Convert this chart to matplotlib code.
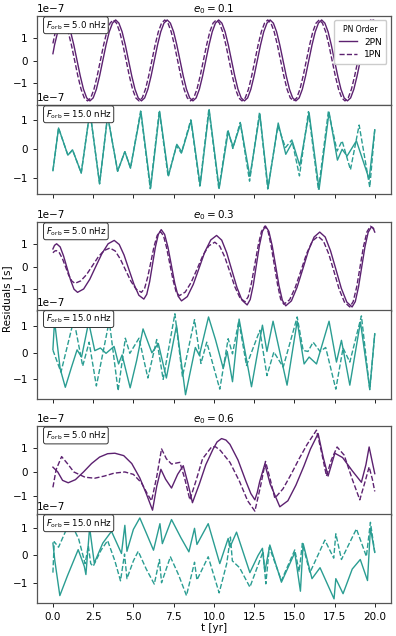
import matplotlib
matplotlib.use("Agg")
import matplotlib.pyplot as plt
import numpy as np

# residuals in units of 1e-7 s
# e0 = 0.1, Forb = 5 nHz
t_a_2pn = [0.0, 0.1, 0.3, 0.5, 0.7, 0.9, 1.1, 1.3, 1.5, 1.7, 1.9, 2.1, 2.3, 2.5, 2.7, 2.9, 3.1, 3.3, 3.5, 3.7,
           3.9, 4.1, 4.3, 4.5, 4.7, 4.9, 5.1, 5.3, 5.5, 5.7, 5.9, 6.1, 6.3, 6.5, 6.7, 6.9, 7.1, 7.3, 7.5, 7.7,
           7.9, 8.1, 8.3, 8.5, 8.7, 8.9, 9.1, 9.3, 9.5, 9.7, 9.9, 10.1, 10.3, 10.5, 10.7, 10.9, 11.1, 11.3,
           11.5, 11.7, 11.9, 12.1, 12.3, 12.5, 12.7, 12.9, 13.1, 13.3, 13.5, 13.7, 13.9, 14.1, 14.3, 14.5,
           14.7, 14.9, 15.1, 15.3, 15.5, 15.7, 15.9, 16.1, 16.3, 16.5, 16.7, 16.9, 17.1, 17.3, 17.5, 17.7,
           17.9, 18.1, 18.3, 18.5, 18.7, 18.9, 19.1, 19.3, 19.5, 19.7, 19.9, 20.0]
r_a_2pn = [0.30, 0.68, 1.26, 1.64,
           1.78, 1.64, 1.26, 0.68, 0.0, -0.68, -1.26, -1.64, -1.77, -1.64, -1.26, -0.68, 0.0, 0.68, 1.26, 1.64,
           1.78, 1.64, 1.26, 0.68, 0.0, -0.68, -1.26, -1.64, -1.77, -1.64, -1.26, -0.68, 0.0, 0.68, 1.26, 1.64,
           1.78, 1.64, 1.26, 0.68, 0.0, -0.68, -1.26, -1.64, -1.77, -1.64, -1.26, -0.68, 0.0, 0.68, 1.26, 1.64,
           1.78, 1.64, 1.26, 0.68, 0.0, -0.68, -1.26, -1.64, -1.77, -1.64, -1.26, -0.68, 0.0, 0.68, 1.26, 1.64,
           1.78, 1.64, 1.26, 0.68, 0.0, -0.68, -1.26, -1.64, -1.77, -1.64, -1.26, -0.68, 0.0, 0.68, 1.26, 1.64,
           1.78, 1.64, 1.26, 0.68, 0.0, -0.68, -1.26, -1.64, -1.77, -1.64, -1.26, -0.68, 0.0, 0.68, 1.26, 1.64,
           1.78, 1.74]
t_a_1pn = [0.0, 0.15, 0.35, 0.55, 0.75, 0.95, 1.15, 1.35, 1.55, 1.75, 1.95, 2.15, 2.35, 2.55, 2.75, 2.95,
           3.15, 3.35, 3.55, 3.75, 3.95, 4.15, 4.35, 4.55, 4.75, 4.95, 5.15, 5.35, 5.55, 5.75, 5.95, 6.15,
           6.35, 6.55, 6.75, 6.95, 7.15, 7.35, 7.55, 7.75, 7.95, 8.15, 8.35, 8.55, 8.75, 8.95, 9.15, 9.35,
           9.55, 9.75, 9.95, 10.15, 10.35, 10.55, 10.75, 10.95, 11.15, 11.35, 11.55, 11.75, 11.95, 12.15,
           12.35, 12.55, 12.75, 12.95, 13.15, 13.35, 13.55, 13.75, 13.95, 14.15, 14.35, 14.55, 14.75, 14.95,
           15.15, 15.35, 15.55, 15.75, 15.95, 16.15, 16.35, 16.55, 16.75, 16.95, 17.15, 17.35, 17.55, 17.75,
           17.95, 18.15, 18.35, 18.55, 18.75, 18.95, 19.15, 19.35, 19.55, 19.75, 19.95, 20.0]
r_a_1pn = [0.75, 1.26, 1.64,
           1.78, 1.64, 1.26, 0.68, 0.0, -0.68, -1.26, -1.64, -1.77, -1.64, -1.26, -0.68, 0.0, 0.68, 1.26, 1.64,
           1.78, 1.64, 1.26, 0.68, 0.0, -0.68, -1.26, -1.64, -1.77, -1.64, -1.26, -0.68, 0.0, 0.68, 1.26, 1.64,
           1.78, 1.64, 1.26, 0.68, 0.0, -0.68, -1.26, -1.64, -1.77, -1.64, -1.26, -0.68, 0.0, 0.68, 1.26, 1.64,
           1.78, 1.64, 1.26, 0.68, 0.0, -0.68, -1.26, -1.64, -1.77, -1.64, -1.26, -0.68, 0.0, 0.68, 1.26, 1.64,
           1.78, 1.64, 1.26, 0.68, 0.0, -0.68, -1.26, -1.64, -1.77, -1.64, -1.26, -0.68, 0.0, 0.68, 1.26, 1.64,
           1.78, 1.64, 1.26, 0.68, 0.0, -0.68, -1.26, -1.64, -1.77, -1.64, -1.26, -0.68, 0.0, 0.68, 1.26, 1.64,
           1.78, 1.64, 1.58]

# e0 = 0.1, Forb = 15 nHz
t_b_2pn = [0.0, 0.35, 0.93, 1.22, 1.76, 2.3, 2.9, 3.4, 4.02, 4.47, 4.82, 5.47, 6.07, 6.63, 7.18, 7.7, 8.01,
           8.59, 9.15, 9.71, 10.33, 10.89, 11.2, 11.66, 12.24, 12.86, 13.37, 14.0, 14.47, 14.89, 15.34, 15.92,
           16.54, 17.16, 17.68, 17.97, 18.28, 18.86, 19.65, 20.0]
r_b_2pn = [-0.74, 0.72, -0.21, -0.03, -0.82, 1.3, -1.19, 1.14, -0.76, -0.09, -0.65, 1.28, -1.34, 1.29, -0.91,
           0.16, -0.1, 0.97, -1.24, 1.35, -1.35, 0.59, 0.07, 0.86, -0.94, 1.2, -1.34, 0.89, -0.18, 0.24, -0.57,
           1.24, -1.38, 1.26, -0.38, -0.01, -0.24, 0.28, -1.03, 0.66]
t_b_1pn = [0.0, 0.35, 0.93, 1.22, 1.76, 2.3, 2.9, 3.4, 4.02, 4.47, 4.82, 5.45, 6.05, 6.61, 7.16, 7.68, 7.98,
           8.57, 9.13, 9.69, 10.31, 10.87, 11.18, 11.64, 12.22, 12.84, 13.35, 13.98, 14.45, 14.85, 15.32, 15.88,
           16.5, 17.12, 17.66, 17.97, 18.49, 19.03, 19.69, 20.0]
r_b_1pn = [-0.74, 0.72, -0.21, -0.03, -0.82, 1.3, -1.19, 1.14, -0.76, -0.09, -0.65, 1.3, -1.36, 1.31, -0.95,
           0.11, -0.14, 1.0, -1.27, 1.37, -1.37, 0.66, 0.02, 0.91, -1.1, 1.26, -1.37, 0.79, 0.05, 0.31, -0.92,
           1.28, -1.4, 1.3, -0.07, 0.28, -0.71, 0.82, -1.31, 0.66]

# e0 = 0.3, Forb = 5 nHz
t_c_2pn = [0.0, 0.1, 0.23, 0.45, 0.66, 0.88, 1.1, 1.31, 1.53, 1.91, 2.29, 2.67, 3.05, 3.43, 3.81, 4.12, 4.42,
           4.73, 5.04, 5.34, 5.65, 5.83, 6.01, 6.19, 6.37, 6.55, 6.73, 6.94, 7.15, 7.36, 7.57, 7.78, 7.99, 8.35,
           8.72, 9.08, 9.44, 9.81, 10.17, 10.49, 10.8, 11.12, 11.44, 11.75, 12.07, 12.26, 12.45, 12.64, 12.83,
           13.02, 13.21, 13.42, 13.63, 13.84, 14.05, 14.26, 14.47, 14.82, 15.17, 15.53, 15.88, 16.23, 16.58,
           16.92, 17.25, 17.59, 17.92, 18.26, 18.59, 18.79, 18.99, 19.19, 19.39, 19.59, 19.79, 19.9, 20.0]
r_c_2pn = [0.8, 0.96, 1.03, 0.89, 0.49, -0.05, -0.59, -0.99, -1.13, -0.98, -0.55, 0.03, 0.6, 1.03, 1.18, 1.0,
           0.53, -0.13, -0.78, -1.26, -1.43, -1.22, -0.66, 0.12, 0.89, 1.45, 1.66, 1.45, 0.87, 0.08, -0.72,
           -1.3, -1.51, -1.32, -0.78, -0.06, 0.67, 1.2, 1.4, 1.19, 0.63, -0.15, -0.92, -1.48, -1.69, -1.45,
           -0.81, 0.07, 0.94, 1.58, 1.82, 1.58, 0.93, 0.05, -0.84, -1.49, -1.73, -1.51, -0.91, -0.09, 0.73,
           1.33, 1.55, 1.33, 0.72, -0.12, -0.95, -1.56, -1.78, -1.54, -0.89, 0.0, 0.89, 1.54, 1.78, 1.72, 1.55]
t_c_1pn = [0.0, 0.1, 0.2, 0.4, 0.59, 0.79, 0.98, 1.18, 1.37, 1.73, 2.09, 2.46, 2.82, 3.18, 3.54, 3.87, 4.19,
           4.52, 4.85, 5.17, 5.5, 5.7, 5.89, 6.09, 6.28, 6.48, 6.67, 6.87, 7.06, 7.26, 7.46, 7.65, 7.85, 8.22,
           8.59, 8.96, 9.32, 9.69, 10.06, 10.37, 10.68, 11.0, 11.31, 11.62, 11.93, 12.14, 12.34, 12.55, 12.76,
           12.96, 13.17, 13.37, 13.56, 13.76, 13.96, 14.15, 14.35, 14.71, 15.06, 15.42, 15.77, 16.13, 16.48,
           16.81, 17.14, 17.47, 17.79, 18.12, 18.45, 18.66, 18.88, 19.09, 19.3, 19.52, 19.73, 19.87, 20.0]
r_c_1pn = [0.63, 0.7, 0.73, 0.63, 0.37, 0.0, -0.37, -0.63, -0.73, -0.62, -0.34, 0.06, 0.45, 0.73, 0.84, 0.71,
           0.35, -0.15, -0.64, -0.99, -1.13, -0.95, -0.45, 0.23, 0.9, 1.4, 1.58, 1.39, 0.87, 0.15, -0.57,
           -1.09, -1.28, -1.12, -0.69, -0.09, 0.51, 0.94, 1.1, 0.92, 0.44, -0.23, -0.89, -1.37, -1.55, -1.32,
           -0.71, 0.13, 0.97, 1.58, 1.81, 1.58, 0.94, 0.08, -0.79, -1.43, -1.66, -1.46, -0.91, -0.15, 0.6,
           1.16, 1.36, 1.15, 0.58, -0.21, -1.0, -1.57, -1.78, -1.54, -0.88, 0.02, 0.91, 1.57, 1.81, 1.75, 1.63]

# e0 = 0.3, Forb = 15 nHz
t_d_2pn = [0.0, 0.1, 0.45, 0.77, 1.15, 1.5, 1.78, 2.22, 2.6, 2.95, 3.3, 3.8, 4.08, 4.3, 4.8, 5.2, 5.6, 6.15,
           6.55, 7.05, 7.68, 8.24, 8.85, 9.1, 9.67, 10.1, 10.58, 10.83, 11.16, 11.57, 12.34, 13.02, 13.3, 13.68,
           14.55, 15.18, 15.61, 15.92, 16.38, 17.16, 17.62, 17.93, 18.45, 19.11, 19.69, 20.0]
r_d_2pn = [0.13, 1.2, -0.6, -1.3, -0.55, 0.11, -0.16, 1.15, 0.08, 0.18, -0.02, 0.24, -0.42, -0.08, -1.32,
           -0.3, 0.9, 0.0, 0.35, -0.95, 1.03, -1.58, 0.2, -0.1, 1.35, 0.5, -0.58, 0.05, -1.09, 1.27, -1.28,
           1.04, 0.05, 1.19, -1.22, 1.19, -0.42, -0.16, -0.42, 1.19, -0.35, 0.47, -1.22, 1.16, -1.37, 0.72]
t_d_1pn = [0.0, 0.5, 1.3, 1.85, 2.25, 2.7, 3.5, 4.05, 4.5, 4.78, 5.35, 5.9, 6.45, 6.85, 7.58, 8.05, 8.8,
           9.2, 9.56, 10.37, 10.89, 11.16, 11.55, 12.03, 12.86, 13.3, 13.73, 14.31, 15.18, 15.55, 15.85, 16.17,
           16.6, 16.95, 17.58, 18.03, 18.45, 19.17, 19.69, 20.0]
r_d_1pn = [0.1, -0.73, 1.25, -0.5, 0.4, -1.25, 1.2, -1.43, 0.55, -0.02, 0.55, -0.95, 0.5, -1.0, 1.47,
           -0.9, 1.25, -0.4, 0.4, -1.37, 0.53, -0.04, 1.2, -0.48, 0.85, -0.86, 0.03, -0.54, 1.35, 0.09, 0.05,
           0.4, 0.05, 0.2, -1.37, 0.18, -0.35, 1.39, -1.39, 0.72]

# e0 = 0.6, Forb = 5 nHz
t_e_2pn = [0.0, 0.3, 0.6, 0.95, 1.4, 1.9, 2.4, 2.9, 3.4, 3.85, 4.4, 4.9, 5.4, 5.8, 6.19, 6.45, 6.71, 7.0,
           7.37, 7.75, 8.1, 8.4, 8.67, 9.1, 9.5, 9.95, 10.2, 10.48, 10.75, 11.0, 11.5, 12.0, 12.3, 12.55, 12.7,
           12.85, 13.17, 13.5, 14.1, 14.6, 15.1, 15.6, 16.0, 16.48, 16.8, 17.1, 17.52, 18.0, 18.6, 19.17,
           19.45, 19.65, 19.85, 20.0]
r_e_2pn = [0.2, 0.0, -0.35, -0.45, -0.32, 0.0, 0.35, 0.62, 0.76, 0.78, 0.68, 0.35, -0.25, -0.9, -1.59,
           -0.6, 0.11, -0.3, -0.67, -0.1, 0.26, -0.5, -1.28, -0.5, 0.3, 0.95, 1.25, 1.39, 1.33, 1.15, 0.5,
           -0.4, -0.9, -1.16, -0.85, -0.4, 0.33, -0.5, -1.45, -1.2, -0.55, 0.25, 0.95, 1.6, 0.6, -0.17, 0.78,
           0.6, 0.05, -0.43, 0.3, 1.04, 0.4, -0.07]
t_e_1pn = [0.0, 0.2, 0.54, 0.9, 1.3, 2.0, 2.6, 3.2, 3.8, 4.47, 5.0, 5.5, 5.9, 6.13, 6.45, 6.75, 7.05, 7.37,
           7.89, 8.2, 8.51, 8.9, 9.3, 9.86, 10.1, 10.4, 11.0, 11.6, 12.1, 12.55, 12.9, 13.21, 13.5, 13.79,
           14.3, 14.8, 15.3, 15.8, 16.38, 16.7, 17.0, 17.3, 17.66, 18.1, 18.6, 19.07, 19.4, 19.65, 19.85, 20.0]
r_e_1pn = [-0.64, 0.1, 0.64, 0.35, 0.0, -0.22, -0.26, -0.17, -0.05, 0.0, -0.1, -0.45, -0.95, -1.2, -0.2,
           0.96, 0.55, 0.33, 0.4, -0.3, -1.16, -0.35, 0.55, 1.04, 1.05, 0.9, 0.4, -0.4, -1.2, -1.63, -0.6,
           0.44, -0.3, -1.09, -0.7, -0.1, 0.55, 1.15, 1.74, 0.8, -0.17, 0.5, 1.04, 0.7, -0.3, -1.16, -0.4,
           0.21, -0.3, -0.81]

# e0 = 0.6, Forb = 15 nHz
t_f_2pn = [0.0, 0.12, 0.43, 0.9, 1.57, 1.95, 2.05, 2.28, 2.57, 3.1, 3.64, 4.26, 4.47, 4.6, 5.0, 5.4, 5.85,
           6.25, 6.65, 6.8, 7.37, 7.95, 8.45, 8.8, 8.95, 9.65, 10.37, 10.89, 11.0, 11.41, 12.24, 12.75, 13.02,
           13.17, 13.48, 14.2, 15.03, 15.38, 15.55, 16.1, 16.6, 17.47, 17.58, 18.03, 18.6, 19.1, 19.55, 19.73,
           20.0]
r_f_2pn = [0.45, -0.2, -1.47, -0.75, 0.21, -0.4, -0.7, 1.02, -0.28, 0.45, 0.88, 0.07, 1.1, 0.15, 0.95,
           1.37, 0.75, 0.19, 1.16, 0.43, 1.31, 0.65, 0.13, 0.99, 0.4, 1.16, -0.3, 0.62, 0.3, 0.85, -0.63, 0.0,
           0.26, -0.6, 0.38, -0.98, 0.1, -1.31, 0.43, -0.85, -0.45, -1.59, -0.85, -1.4, -0.5, -0.15, -0.92,
           1.0, 0.11]
t_f_1pn = [0.0, 0.08, 0.35, 0.8, 1.15, 1.6, 2.0, 2.2, 2.35, 2.5, 3.0, 3.4, 3.85, 4.2, 4.45, 4.6, 5.0, 5.3,
           5.8, 6.3, 6.62, 6.75, 7.3, 7.8, 8.3, 8.8, 8.95, 9.65, 10.33, 10.8, 11.03, 11.15, 11.6, 12.24, 13.06,
           13.23, 13.45, 14.2, 15.03, 15.3, 15.5, 15.97, 16.9, 17.45, 17.58, 17.93, 18.86, 19.48, 19.73, 20.0]
r_f_1pn = [-0.63, 0.5, 0.3, 0.9, 1.15, 0.6, -0.3, 0.35, -0.3, -0.4, 0.2, 0.54, -0.2, -0.93, 0.05, -0.85,
           -0.2, 0.15, -0.5, -1.05, -0.15, -1.0, -0.05, -0.7, -1.47, -0.25, -0.9, -0.05, -1.37, -0.3, 0.67,
           -0.2, -0.45, -1.16, 0.14, -1.04, 0.3, -0.92, 0.2, -0.6, 0.44, -0.63, 0.56, -0.1, 0.79, -0.15, 0.97,
           -0.04, 1.21, 0.11]

eccs = ['0.1', '0.3', '0.6']
forbs = ['5.0', '15.0']
purple = '#5c2170'
teal = '#2a9d92'

fig = plt.figure(figsize=(3.96, 6.36), dpi=100)
left, width, h = 0.093, 0.894, 0.14
bottoms = [0.835, 0.695, 0.511, 0.373, 0.190, 0.052]
panels = [(t_a_2pn, r_a_2pn, t_a_1pn, r_a_1pn), (t_b_2pn, r_b_2pn, t_b_1pn, r_b_1pn),
          (t_c_2pn, r_c_2pn, t_c_1pn, r_c_1pn), (t_d_2pn, r_d_2pn, t_d_1pn, r_d_1pn),
          (t_e_2pn, r_e_2pn, t_e_1pn, r_e_1pn), (t_f_2pn, r_f_2pn, t_f_1pn, r_f_1pn)]

axes = []
for i, (t2, r2, t1, r1) in enumerate(panels):
    ax = fig.add_axes([left, bottoms[i], width, h])
    col = purple if i % 2 == 0 else teal
    ax.plot(t2, np.array(r2) * 1e-7, color=col, lw=1.0, label='2PN', solid_joinstyle='round')
    ax.plot(t1, np.array(r1) * 1e-7, color=col, lw=1.0, ls='--', label='1PN', dash_joinstyle='round')
    ax.set_xlim(-1, 21)
    ax.set_yticks([-1e-7, 0, 1e-7])
    ax.tick_params(labelsize=7.5, width=0.6, length=3)
    ax.yaxis.get_offset_text().set_fontsize(7.5)
    for s in ax.spines.values():
        s.set_color('#555555')
        s.set_linewidth(0.9)
    ax.text(0.025, 0.965, r'$F_{\rm orb} = $' + forbs[i % 2] + ' nHz', transform=ax.transAxes,
            ha='left', va='top', fontsize=6.2,
            bbox=dict(boxstyle='round,pad=0.25', fc='white', ec='#333333', lw=0.7))
    if i % 2 == 0:
        ax.set_title(r'$e_0 = $' + eccs[i // 2], fontsize=7.5, pad=3)
        ax.tick_params(axis='x', bottom=False, labelbottom=False)
    else:
        ax.set_xticks([0, 2.5, 5, 7.5, 10, 12.5, 15, 17.5, 20])
        if i < 5:
            ax.tick_params(axis='x', labelbottom=False)
    axes.append(ax)

axes[0].legend(loc='upper right', title='PN Order', fontsize=6.5, title_fontsize=5.5,
               handlelength=2.0, borderpad=0.5, labelspacing=0.4, framealpha=1.0)
axes[5].set_xlabel('t [yr]', fontsize=7.5, labelpad=1)
fig.text(0.018, 0.53, 'Residuals [s]', rotation=90, va='center', ha='center', fontsize=7.5)

plt.savefig('out.png', dpi=100)
